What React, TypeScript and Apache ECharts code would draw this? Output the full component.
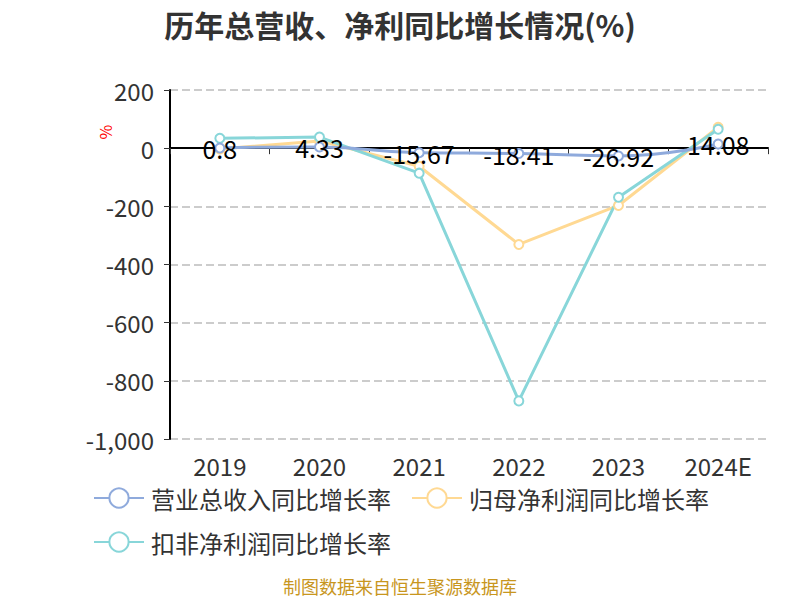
import React, { useEffect, useRef } from "react";
import * as echarts from "echarts";

const categories = ["2019", "2020", "2021", "2022", "2023", "2024E"];
const revenueGrowth = [0.8, 4.33, -15.67, -18.41, -26.92, 14.08];
const netProfitGrowth = [-3, 25, -62, -331, -197, 72];
const deductedProfitGrowth = [34, 38, -86, -869, -169, 65];
const seriesNames = ["营业总收入同比增长率", "归母净利润同比增长率", "扣非净利润同比增长率"];
const seriesColors = ["#8FAADC", "#FFD993", "#88D6D9"];

const fmt = (v: number) => {
  const s = Math.abs(v).toString().replace(/\B(?=(\d{3})+(?!\d))/g, ",");
  return (v < 0 ? "-" : "") + s;
};

export default function App() {
  const ref = useRef<HTMLDivElement>(null);
  useEffect(() => {
    if (!ref.current) return;
    const chart = echarts.init(ref.current, null, { renderer: "svg" });
    const font = "'Noto Sans CJK SC', 'Noto Sans', sans-serif";
    chart.setOption({
      animation: false,
      textStyle: { fontFamily: font },
      title: {
        text: "历年总营收、净利同比增长情况(%)",
        left: "center",
        top: 4,
        textStyle: { fontSize: 30, fontWeight: "bold", color: "#333", fontFamily: font },
      },
      graphic: [
        {
          type: "text",
          left: "center",
          top: 577,
          style: { text: "制图数据来自恒生聚源数据库", fill: "#C8961E", fontSize: 18, fontFamily: font },
        },
        {
          type: "text",
          x: 105,
          y: 132,
          rotation: Math.PI / 2,
          style: { text: "%", fill: "#f00", fontSize: 16, fontFamily: font, align: "center", verticalAlign: "middle" },
        },
      ],
      legend: {
        left: 88,
        top: 481,
        width: 680,
        itemWidth: 50,
        itemHeight: 24,
        itemGap: 20,
        textStyle: { fontSize: 24, lineHeight: 24, color: "#333", fontFamily: font, padding: [0, 0, 0, 2] },
        data: seriesNames,
      },
      grid: { left: 170, right: 32, top: 90, bottom: 161 },
      xAxis: [
        {
          type: "category",
          data: categories,
          axisLine: { show: false, onZero: false },
          axisTick: { show: false },
          axisLabel: { fontSize: 24, lineHeight: 22, color: "#333", margin: 15 },
        },
        {
          type: "category",
          data: categories,
          position: "bottom",
          axisLine: { show: true, onZero: true, lineStyle: { color: "#000", width: 2 } },
          axisTick: { show: true, length: 6, lineStyle: { color: "#333" } },
          axisLabel: { show: false },
        },
      ],
      yAxis: {
        type: "value",
        min: -1000,
        max: 200,
        interval: 200,
        axisLine: { show: true, lineStyle: { color: "#000", width: 2 } },
        axisTick: { show: true, length: 6, lineStyle: { color: "#333" } },
        axisLabel: { fontSize: 24, color: "#333", margin: 16, formatter: (v: number) => fmt(v) },
        splitLine: { show: true, lineStyle: { type: "dashed", color: "#ccc", width: 2 } },
      },
      series: [
        {
          name: seriesNames[0],
          type: "line",
          data: revenueGrowth,
          smooth: true,
          symbol: "emptyCircle",
          symbolSize: 9,
          lineStyle: { width: 3, color: seriesColors[0] },
          itemStyle: { color: seriesColors[0], borderWidth: 2 },
          label: { show: true, position: "inside", fontSize: 25, color: "#000" },
          z: 3,
        },
        {
          name: seriesNames[1],
          type: "line",
          data: netProfitGrowth,
          symbol: "emptyCircle",
          symbolSize: 9,
          lineStyle: { width: 3, color: seriesColors[1] },
          itemStyle: { color: seriesColors[1], borderWidth: 2 },
          z: 2,
        },
        {
          name: seriesNames[2],
          type: "line",
          data: deductedProfitGrowth,
          symbol: "emptyCircle",
          symbolSize: 9,
          lineStyle: { width: 3, color: seriesColors[2] },
          itemStyle: { color: seriesColors[2], borderWidth: 2 },
          z: 2,
        },
      ],
    });
    return () => chart.dispose();
  }, []);
  return <div ref={ref} style={{ width: 800, height: 600, position: "absolute", left: 0, top: 0 }} />;
}
